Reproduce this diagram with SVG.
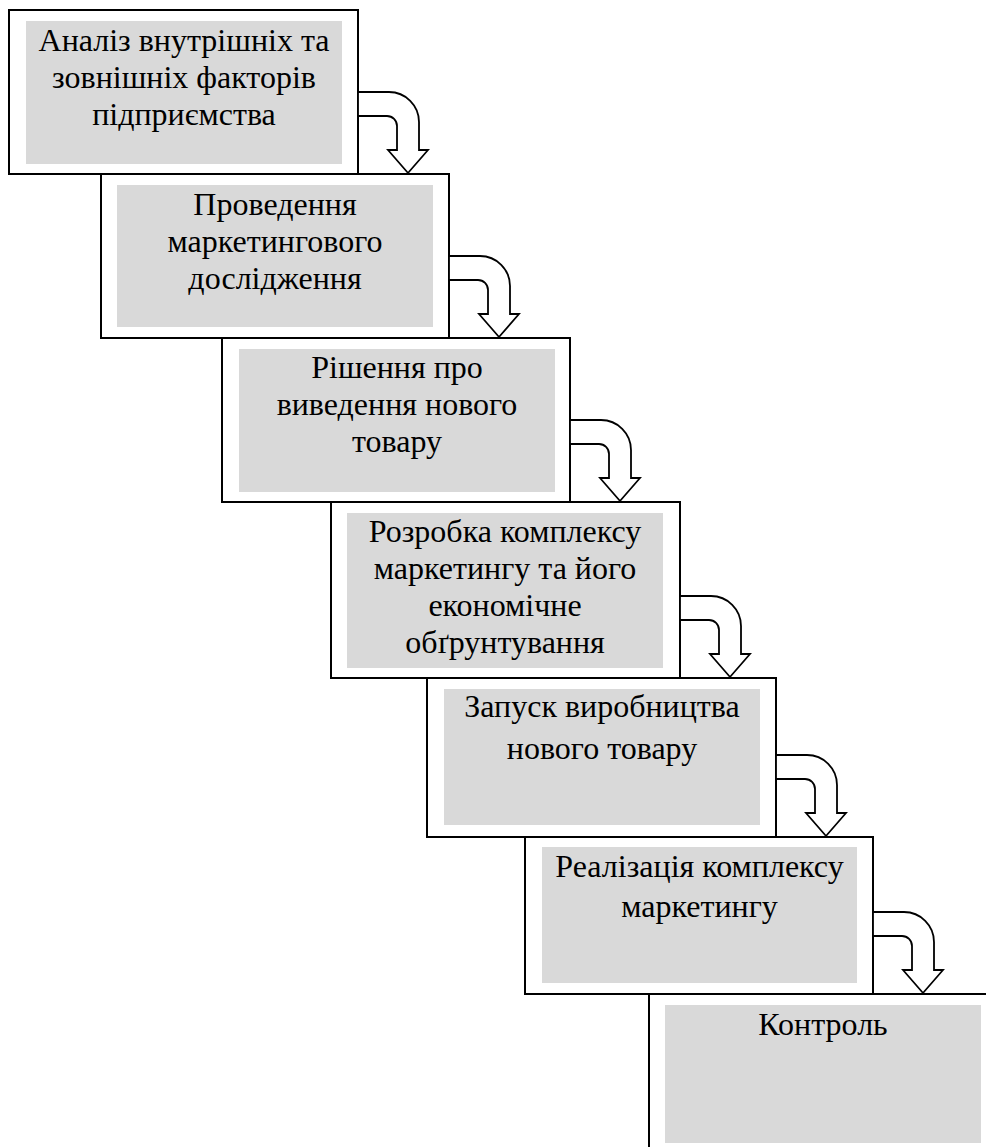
<svg xmlns="http://www.w3.org/2000/svg" xmlns:xlink="http://www.w3.org/1999/xlink" width="986" height="1147" viewBox="0 0 986 1147">
  <style>
    .frame { fill: #ffffff; stroke: #000000; stroke-width: 2; }
    .inner { fill: #d9d9d9; stroke: none; }
    .lbl { font-size: 32px; fill: #000000; text-anchor: middle; }
    .arr { fill: #ffffff; stroke: #000000; stroke-width: 1.8; stroke-linejoin: miter; }
  </style>
  <defs>
    <path id="uturn" d="M 0,-82 H 31 A 30,30 0 0 1 61,-52 V -24 H 70 L 50,-1 L 30,-24 H 39 V -48 A 10,10 0 0 0 29,-58 H 0 Z"/>
  </defs>
  <rect x="0" y="0" width="986" height="1147" fill="#ffffff"/>

  <g font-family="'Liberation Serif', 'Times New Roman', 'DejaVu Serif', serif">
  <g id="node7">
    <rect class="frame" x="649" y="994" width="349" height="164"/>
    <rect class="inner" x="665" y="1005" width="316" height="138"/>
    <text class="lbl" x="823" y="1035">Контроль</text>
  </g>
  <g id="node6">
    <rect class="frame" x="525" y="837" width="348" height="157"/>
    <rect class="inner" x="542" y="847" width="315" height="136"/>
    <text class="lbl" x="699.5" y="877">Реалізація комплексу</text>
    <text class="lbl" x="699.5" y="917">маркетингу</text>
  </g>
  <g id="node5">
    <rect class="frame" x="427" y="678" width="349" height="159"/>
    <rect class="inner" x="444" y="689" width="316" height="136"/>
    <text class="lbl" x="602" y="717">Запуск виробництва</text>
    <text class="lbl" x="602" y="759">нового товару</text>
  </g>
  <g id="node4">
    <rect class="frame" x="331" y="502" width="349" height="176"/>
    <rect class="inner" x="347" y="513" width="316" height="155"/>
    <text class="lbl" x="505" y="542">Розробка комплексу</text>
    <text class="lbl" x="505" y="579">маркетингу та його</text>
    <text class="lbl" x="505" y="616">економічне</text>
    <text class="lbl" x="505" y="653">обґрунтування</text>
  </g>
  <g id="node3">
    <rect class="frame" x="222" y="338" width="348" height="164"/>
    <rect class="inner" x="239" y="349" width="316" height="143"/>
    <text class="lbl" x="397" y="378">Рішення про</text>
    <text class="lbl" x="397" y="415">виведення нового</text>
    <text class="lbl" x="397" y="452">товару</text>
  </g>
  <g id="node2">
    <rect class="frame" x="101" y="174" width="348" height="164"/>
    <rect class="inner" x="117" y="185" width="316" height="142"/>
    <text class="lbl" x="275" y="215">Проведення</text>
    <text class="lbl" x="275" y="252">маркетингового</text>
    <text class="lbl" x="275" y="289">дослідження</text>
  </g>
  <g id="node1">
    <rect class="frame" x="9" y="10" width="349" height="164"/>
    <rect class="inner" x="26" y="21" width="316" height="143"/>
    <text class="lbl" x="184" y="51">Аналіз внутрішніх та</text>
    <text class="lbl" x="184" y="88">зовнішніх факторів</text>
    <text class="lbl" x="184" y="125">підприємства</text>
  </g>
  </g>

  <g id="connectors">
    <use class="arr" xlink:href="#uturn" href="#uturn" transform="translate(358,174)"/>
    <use class="arr" xlink:href="#uturn" href="#uturn" transform="translate(449,338)"/>
    <use class="arr" xlink:href="#uturn" href="#uturn" transform="translate(570,502)"/>
    <use class="arr" xlink:href="#uturn" href="#uturn" transform="translate(680,678)"/>
    <use class="arr" xlink:href="#uturn" href="#uturn" transform="translate(776,837)"/>
    <use class="arr" xlink:href="#uturn" href="#uturn" transform="translate(873,994)"/>
  </g>
</svg>
